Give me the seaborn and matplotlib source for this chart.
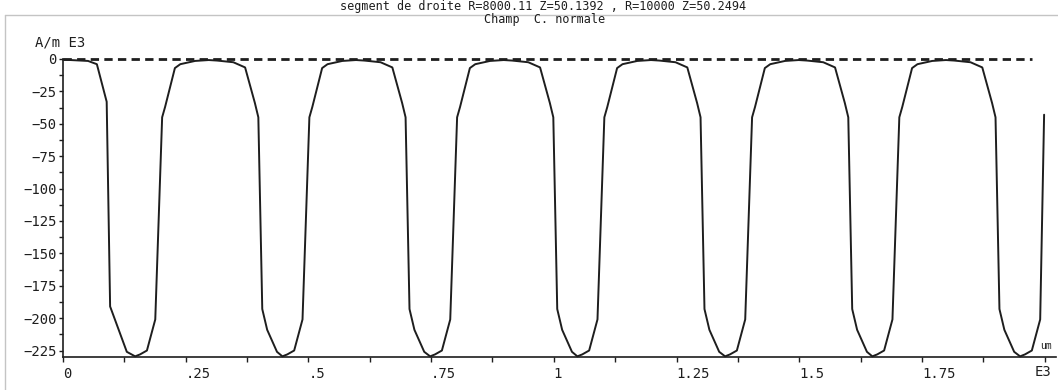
import matplotlib
matplotlib.use("Agg")
import matplotlib.pyplot as plt
from matplotlib.lines import Line2D
from matplotlib.ticker import MultipleLocator
import numpy as np
import seaborn as sns

# values (x in E3 um, y in A/m E3)
START_X = [0.0, 0.051, 0.069, 0.089, 0.096, 0.130]
START_Y = [-0.5, -1.5, -4.0, -33.0, -191.0, -226.0]

# centres of the wells that are followed by a full hump
WELL_X = [0.147, 0.447, 0.748, 1.048, 1.349, 1.649]

# shape of one well + hump, offsets from the well centre
PROFILE_DX = [0.0, 0.010, 0.024, 0.041, 0.055, 0.061, 0.081, 0.092, 0.122,
              0.150, 0.167, 0.200, 0.224, 0.244, 0.251, 0.259, 0.269, 0.289]
PROFILE_Y = [-229.5, -228.0, -225.0, -201.0, -45.0, -37.0, -7.0, -4.0, -1.5,
             -0.8, -1.2, -2.5, -6.5, -34.0, -45.0, -193.0, -209.0, -226.0]

# last well and the end of the trace
TAIL_X = [1.950, 1.960, 1.974, 1.991, 1.999]
TAIL_Y = [-229.5, -228.0, -225.0, -201.0, -43.0]

REF_X = [0.0, 1.974]
REF_Y = [0.0, 0.0]

X_TICKS = [0, 0.25, 0.5, 0.75, 1.0, 1.25, 1.5, 1.75]
X_LABELS = ["0", ".25", ".5", ".75", "1", "1.25", "1.5", "1.75"]
Y_TICKS = [0, -25, -50, -75, -100, -125, -150, -175, -200, -225]

TITLE_1 = "segment de droite R=8000.11 Z=50.1392 , R=10000 Z=50.2494"
TITLE_2 = "Champ  C. normale"

# assemble the trace
xs = list(START_X)
ys = list(START_Y)
for c in WELL_X:
    xs.extend(c + d for d in PROFILE_DX)
    ys.extend(PROFILE_Y)
xs.extend(TAIL_X)
ys.extend(TAIL_Y)

sns.set_style("ticks")
plt.rcParams["font.family"] = ["DejaVu Sans Mono", "DejaVu Sans"]

W, H = 1058, 390
fig = plt.figure(figsize=(W / 100, H / 100), dpi=100)
ax = fig.add_axes([63 / W, 1 - 357 / H, (1056 - 63) / W, (357 - 59) / H])

ink = "#1e1e1e"
sns.lineplot(x=xs, y=ys, ax=ax, color=ink, lw=1.4, sort=False,
             estimator=None, clip_on=False)
sns.lineplot(x=REF_X, y=REF_Y, ax=ax, color=ink, lw=2.0,
             linestyle=(0, (3.0, 1.9)), clip_on=False)

ax.set_xlim(0, (1056 - 63) / 490.8)
ax.set_ylim(-230, 0)

for side in ["top", "right"]:
    ax.spines[side].set_visible(False)
for side in ["left", "bottom"]:
    ax.spines[side].set_color(ink)
    ax.spines[side].set_linewidth(1.2)

ax.set_xticks(X_TICKS)
ax.set_xticklabels(X_LABELS, ha="left")
ax.xaxis.set_minor_locator(MultipleLocator(0.125))
ax.set_yticks(Y_TICKS)
ax.yaxis.set_minor_locator(MultipleLocator(12.5))

ax.tick_params(axis="x", which="both", direction="out", length=3.5,
               width=1, color=ink, labelsize=10, pad=4, labelcolor=ink)
ax.tick_params(axis="y", which="both", direction="out", length=3.0,
               width=1, color=ink, labelsize=10, pad=1.5, labelcolor=ink)

fig.text(543 / W, 1 - 6.5 / H, TITLE_1, ha="center", va="center",
         fontsize=8.5, color=ink)
fig.text(545 / W, 1 - 19.5 / H, TITLE_2, ha="center", va="center",
         fontsize=8.5, color=ink)
fig.text(35 / W, 1 - 42 / H, "A/m E3", ha="left", va="center",
         fontsize=10, color=ink)
fig.text(1040 / W, 1 - 346 / H, "um", ha="left", va="center",
         fontsize=7, color=ink)
fig.text(1035 / W, 1 - 372 / H, "E3", ha="left", va="center",
         fontsize=10, color=ink)

# faint frame of the scanned page
fig.add_artist(Line2D([5 / W, 1], [1 - 15 / H, 1 - 15 / H],
                      transform=fig.transFigure, color="#c4c4c4", lw=1))
fig.add_artist(Line2D([5 / W, 5 / W], [0, 1 - 15 / H],
                      transform=fig.transFigure, color="#c4c4c4", lw=1))

fig.savefig("out.png", dpi=100)
